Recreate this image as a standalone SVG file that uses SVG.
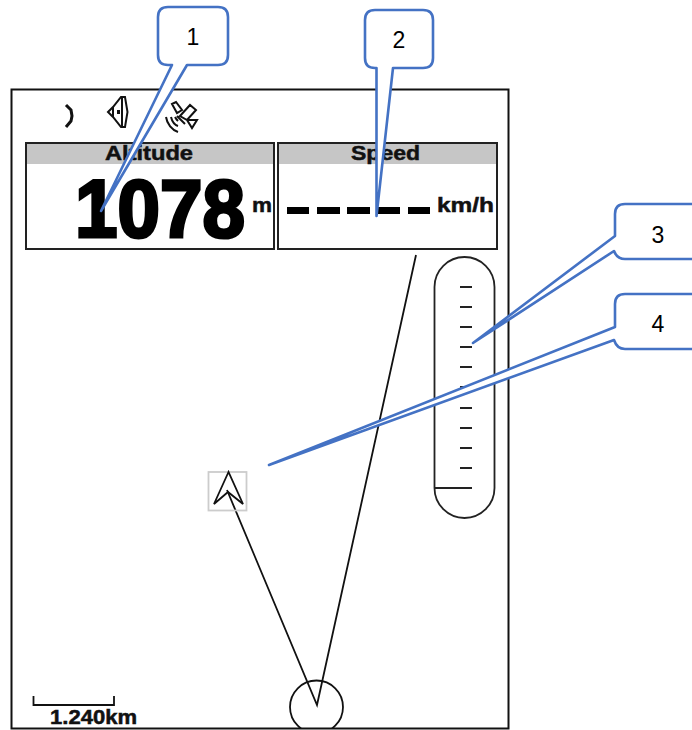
<svg xmlns="http://www.w3.org/2000/svg" width="692" height="730" viewBox="0 0 692 730">
<defs>
<clipPath id="inside"><rect x="12" y="90" width="496" height="638"/></clipPath>
</defs>
<style>
.ink{fill:none;stroke:#111;stroke-width:1.8}
.box{fill:#fff;stroke:#222;stroke-width:2}
.hdr{fill:#c6c6c6}
.t{font-family:"Liberation Sans",Arial,sans-serif;font-weight:700;fill:#111;stroke:#111;stroke-width:.5}
.tick{stroke:#222;stroke-width:1.8}
.dash{fill:#000}
.call{fill:#fff;stroke:#4472c4;stroke-width:2.6;stroke-linejoin:round}
.num{font-family:"Liberation Sans",Arial,sans-serif;font-size:23px;fill:#000;text-anchor:middle}
</style>
<rect width="692" height="730" fill="#fff"/>
<g id="screen">
<rect x="11.5" y="89.5" width="497" height="639" fill="#fff" stroke="#111" stroke-width="2"/>
</g>
<g id="status-icons">
<path class="ink" style="stroke-width:3" d="M66 105L71 110L72 116L71 121L66 127"/>
<path class="ink" style="stroke-width:2" d="M108 112L113 107L121 97L125 97L127.500 112L125 127L121 127L113 117L108 112ZM113 107V117M122 97V127"/>
<rect x="117" y="110" width="3" height="4" fill="#111"/>
<path class="ink" style="stroke-width:2" d="M172 104L176 102L182 110L177 113ZM180 116L190 105L196 110L187 120L180 116ZM187 120L197 120L192 128ZM177 116L185 124M166 117C167 124 172 130 178 132M171 117C172 121 175 125 178 126M175 117C176 119 177 120 178 121"/>
</g>
<g id="altitude-panel">
<rect class="box" x="26" y="143" width="248" height="106"/>
<rect class="hdr" x="27" y="144" width="246" height="20"/>
<text class="t" x="149" y="160" font-size="21" text-anchor="middle" textLength="88" lengthAdjust="spacingAndGlyphs">Altitude</text>
<text class="t" transform="translate(75 237) scale(1 1.05)" x="0" y="0" font-size="78" textLength="170" lengthAdjust="spacingAndGlyphs" style="fill:#000;stroke:#000;stroke-width:3">1078</text>
<text class="t" x="252" y="212" font-size="21" textLength="20" lengthAdjust="spacingAndGlyphs">m</text>
</g>
<g id="speed-panel">
<rect class="box" x="278" y="143" width="219" height="106"/>
<rect class="hdr" x="279" y="144" width="217" height="20"/>
<text class="t" x="385.500" y="160" font-size="21" text-anchor="middle" textLength="69" lengthAdjust="spacingAndGlyphs">Speed</text>
<rect class="dash" x="287" y="207" width="22" height="7"/>
<rect class="dash" x="317" y="207" width="23" height="7"/>
<rect class="dash" x="347" y="207" width="23" height="7"/>
<rect class="dash" x="378" y="207" width="22" height="7"/>
<rect class="dash" x="408" y="207" width="22" height="7"/>
<text class="t" x="437" y="212" font-size="21" textLength="57" lengthAdjust="spacingAndGlyphs">km/h</text>
</g>
<g id="vertical-scale">
<rect x="434.500" y="257" width="60" height="261" rx="30" ry="30" fill="#fff" stroke="#222" stroke-width="1.800"/>
<path class="tick" d="M460 287H472M460 307H472M460 327H472M460 347H472M460 367H472M460 387H472M460 408H472M460 428H472M460 448H472M460 468H472M435 488H472"/>
</g>
<g id="connectors">
<path class="ink" d="M416 255L317 705L227 490"/>
</g>
<g id="position-circle">
<circle class="ink" cx="316.500" cy="707" r="26.500" clip-path="url(#inside)"/>
</g>
<g id="waypoint-arrow">
<rect x="208.500" y="472" width="38" height="38.500" fill="none" stroke="#ccc" stroke-width="1.800"/>
<path class="ink" d="M228.500 472L214 504L228 492L243 504Z"/>
</g>
<g id="scale-bar">
<path class="ink" d="M33.500 696V705H114V696"/>
<text class="t" x="50" y="724" font-size="20" textLength="87" lengthAdjust="spacingAndGlyphs">1.240km</text>
</g>
<g id="callout-1">
<path class="call" d="M168 7H218Q228 7 228 17V55Q228 65 218 65H187L101 211L172 65H168Q158 65 158 55V17Q158 7 168 7Z"/>
<text class="num" x="193" y="45">1</text>
</g>
<g id="callout-2">
<path class="call" d="M375 10H423Q433 10 433 20V58Q433 68 423 68H393L376.500 216V68H375Q365 68 365 58V20Q365 10 375 10Z"/>
<text class="num" x="399" y="48">2</text>
</g>
<g id="callout-3">
<path class="call" d="M700 204H625Q615 204 615 214V236L473 343L614 251Q617 259 625 259H700"/>
<text class="num" x="658" y="243">3</text>
</g>
<g id="callout-4">
<path class="call" d="M700 294H625Q615 294 615 304V327L269 465L614 340Q617 349 625 349H700"/>
<text class="num" x="658" y="332">4</text>
</g>
</svg>
